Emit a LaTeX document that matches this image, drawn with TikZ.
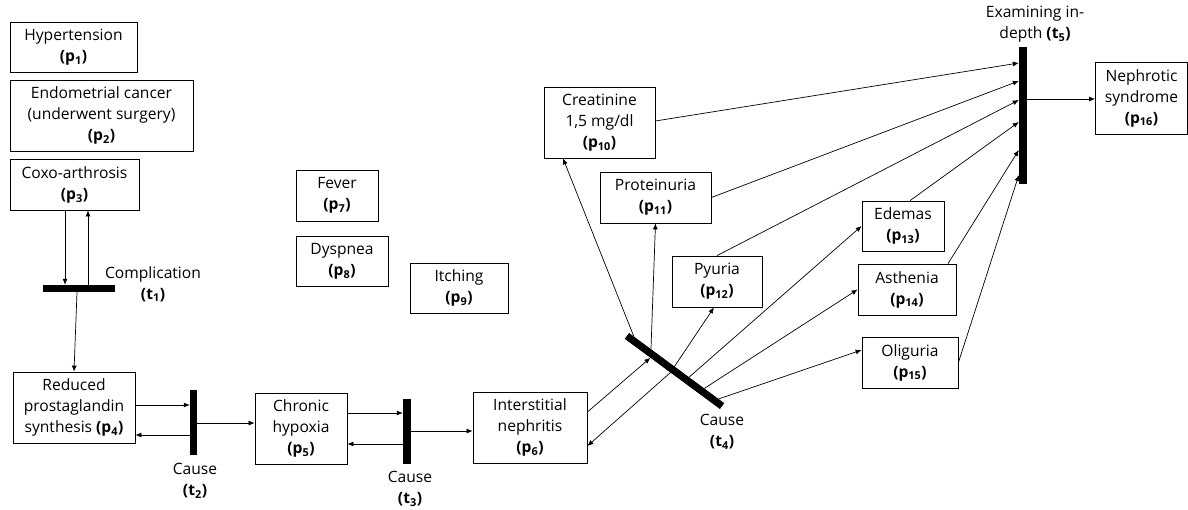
\documentclass[tikz,border=0pt]{standalone}
\usepackage{fontspec}
\setmainfont{Open Sans}
\usetikzlibrary{arrows.meta,calc}

\newcommand{\pn}[1]{\textbf{(p\textsubscript{#1})}}
\newcommand{\tn}[1]{\textbf{(t\textsubscript{#1})}}

\begin{document}
\begin{tikzpicture}[x=1pt, y=-1pt, >={Latex[length=6pt,width=5pt]},
  place/.style={draw, line width=0.8pt, align=center, inner sep=0pt,
    font=\fontsize{15.6}{21}\selectfont},
  bar/.style={fill=black, inner sep=0pt},
  lbl/.style={align=center, font=\fontsize{15.6}{21}\selectfont},
  arc/.style={->, line width=0.7pt}]
  \useasboundingbox (0,0) rectangle (1188,509);

  % Places
  \node[place, minimum width=127pt, minimum height=50pt] (p1) at (73.5,47) {Hypertension\\\pn{1}};
  \node[place, minimum width=183pt, minimum height=71pt] (p2) at (101.5,115.5) {Endometrial cancer\\(underwent surgery)\\\pn{2}};
  \node[place, minimum width=129pt, minimum height=51pt] (p3) at (74.5,184.5) {Coxo-arthrosis\\\pn{3}};
  \node[place, minimum width=122pt, minimum height=71pt] (p4) at (74,407.5) {Reduced\\prostaglandin\\synthesis \pn{4}};
  \node[place, minimum width=92pt, minimum height=71pt] (p5) at (301,428.5) {Chronic\\hypoxia\\\pn{5}};
  \node[place, minimum width=114pt, minimum height=71pt] (p6) at (530,427.5) {Interstitial\\nephritis\\\pn{6}};
  \node[place, minimum width=82pt, minimum height=51pt] (p7) at (337,195.5) {Fever\\\pn{7}};
  \node[place, minimum width=92pt, minimum height=50pt] (p8) at (342,261) {Dyspnea\\\pn{8}};
  \node[place, minimum width=98pt, minimum height=50pt] (p9) at (459,288) {Itching\\\pn{9}};
  \node[place, minimum width=111pt, minimum height=71pt] (p10) at (599.5,122.5) {Creatinine\\1,5 mg/dl\\\pn{10}};
  \node[place, minimum width=111pt, minimum height=51pt] (p11) at (655.5,197.5) {Proteinuria\\\pn{11}};
  \node[place, minimum width=90pt, minimum height=51pt] (p12) at (717,281.5) {Pyuria\\\pn{12}};
  \node[place, minimum width=82pt, minimum height=50pt] (p13) at (903,226) {Edemas\\\pn{13}};
  \node[place, minimum width=98pt, minimum height=51pt] (p14) at (907,289.5) {Asthenia\\\pn{14}};
  \node[place, minimum width=96pt, minimum height=51pt] (p15) at (910,362.5) {Oliguria\\\pn{15}};
  \node[place, minimum width=92pt, minimum height=72pt] (p16) at (1141.5,98) {Nephrotic\\syndrome\\\pn{16}};

  % Transitions
  \node[bar, minimum width=72pt, minimum height=7pt] (t1) at (79,288.5) {};
  \node[bar, minimum width=7pt, minimum height=65pt] (t2) at (193.5,422.5) {};
  \node[bar, minimum width=8pt, minimum height=65pt] (t3) at (407,431.5) {};
  \node[bar, minimum width=118pt, minimum height=7pt, rotate=-36.4] (t4) at (674.5,371) {};
  \node[bar, minimum width=8pt, minimum height=137pt] (t5) at (1023,115.5) {};

  % Transition labels
  \node[lbl] (l1) at (153,284) {Complication\\\tn{1}};
  \node[lbl] (l2) at (195,481) {Cause\\\tn{2}};
  \node[lbl] (l3) at (410,489) {Cause\\\tn{3}};
  \node[lbl] (l4) at (722,432) {Cause\\\tn{4}};
  \node[lbl] (l5) at (1035,24) {Examining in-\\depth \tn{5}};

  % Arcs on the left
  \draw[arc] (p3.south -| 65,0) -- (t1.north -| 65,0);
  \draw[arc] (t1.north -| 88,0) -- (p3.south -| 88,0);
  \draw[arc] (t1.south -| 77,0) -- (p4.north -| 74,0);
  \draw[arc] (p4.east |- 0,405) -- (t2.west |- 0,405);
  \draw[arc] (t2.west |- 0,435) -- (p4.east |- 0,435);
  \draw[arc] (t2.east |- 0,423) -- (p5.west |- 0,423);
  \draw[arc] (p5.east |- 0,413) -- (t3.west |- 0,413);
  \draw[arc] (t3.west |- 0,444) -- (p5.east |- 0,444);
  \draw[arc] (t3.east |- 0,431) -- (p6.west |- 0,431);

  % Arcs round t4
  \draw[arc] (p6.east |- 0,412) -- ($(t4.south west)!0.27!(t4.south east)$);
  \draw[arc] ($(t4.south west)!0.48!(t4.south east)$) -- (p6.east |- 0,446);
  \draw[arc] ($(t4.north west)!0.05!(t4.north east)$) -- (p10.south -| 563,0);
  \draw[arc] ($(t4.north west)!0.23!(t4.north east)$) -- (p11.south);
  \draw[arc] ($(t4.south west)!0.48!(t4.south east)$) -- (p12.south -| 714,0);
  \draw[arc] ($(t4.north west)!0.63!(t4.north east)$) -- (p13.west);
  \draw[arc] ($(t4.north west)!0.79!(t4.north east)$) -- (p14.west);
  \draw[arc] ($(t4.north west)!0.94!(t4.north east)$) -- (p15.west |- 0,350);
  \node[bar, minimum width=118pt, minimum height=7pt, rotate=-36.4] at (t4) {};

  % Arcs into t5
  \draw[arc] (p10.east |- 0,121) -- (t5.west |- 0,63);
  \draw[arc] (p11.east) -- (t5.west |- 0,81);
  \draw[arc] (p12.north) -- (t5.west |- 0,100);
  \draw[arc] (p13.north -| 910,0) -- (t5.west |- 0,122);
  \draw[arc] (p14.north -| 948,0) -- (t5.west |- 0,150);
  \draw[arc] (p15.east) -- (t5.west |- 0,175);
  \draw[arc] (t5.east |- 0,99) -- (p16.west |- 0,99);
\end{tikzpicture}
\end{document}
